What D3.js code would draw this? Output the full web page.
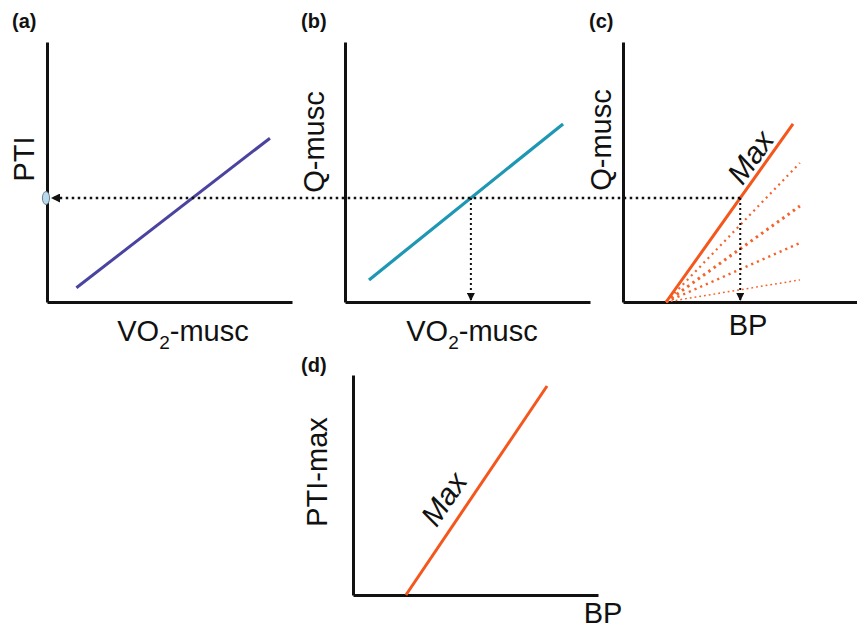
<!DOCTYPE html>
<html><head><meta charset="utf-8">
<script src="https://cdn.jsdelivr.net/npm/d3@7"></script>
<style>
html,body{margin:0;padding:0;background:#fff;}
svg{display:block;font-family:"Liberation Sans",Arial,Helvetica,sans-serif;}
</style></head>
<body>
<svg id="chart" width="857" height="629"></svg>
<script>
// ---- data (abstract units, each axis 0..10) ----
const panelLabels = ["(a)", "(b)", "(c)", "(d)"];
const yAxisLabels = ["PTI", "Q-musc", "Q-musc", "PTI-max"];
const xAxisLabels = ["VO2-musc", "VO2-musc", "BP", "BP"];
const lineA = [{x: 1.2, y: 0.55}, {x: 9.1, y: 6.3}];      // PTI vs VO2-musc
const lineB = [{x: 0.98, y: 0.85}, {x: 8.9, y: 6.85}];    // Q-musc vs VO2-musc
const lineCMax = [{x: 1.76, y: 0}, {x: 6.94, y: 6.85}];   // Q-musc vs BP, max
const subMaxOrigin = {x: 1.76, y: 0};
const subMaxEndX = 7.22;
const subMaxEndY = [5.35, 3.69, 2.27, 0.85];              // sub-maximal lines
const lineD = [{x: 2.16, y: 0}, {x: 7.92, y: 9.5}];       // PTI-max vs BP
const operatingLevel = 4.0;                               // shared Q / PTI level
const maxLabel = "Max";

// ---- layout ----
const svg = d3.select("#chart");
const panels = [
  {x0: 47, x1: 292, y0: 302, y1: 42},
  {x0: 345, x1: 590, y0: 302, y1: 42},
  {x0: 623, x1: 868, y0: 302, y1: 42},
  {x0: 353, x1: 598, y0: 595, y1: 375}
];
panels.forEach(p => {
  p.x = d3.scaleLinear().domain([0, 10]).range([p.x0, p.x1]);
  p.y = d3.scaleLinear().domain([0, 10]).range([p.y0, p.y1]);
});
const [pa, pb, pc, pd] = panels;

const defs = svg.append("defs");
function marker(id, w, h) {
  defs.append("marker").attr("id", id)
    .attr("viewBox", "0 0 10 10").attr("refX", 10).attr("refY", 5)
    .attr("markerWidth", w).attr("markerHeight", h)
    .attr("markerUnits", "userSpaceOnUse")
    .attr("orient", "auto")
    .append("path").attr("d", "M0,0L10,5L0,10Z").attr("fill", "#111");
}
marker("arrowH", 9, 9);
marker("arrowV", 8, 8);

// axes
panels.forEach(p => {
  svg.append("g").attr("transform", `translate(0,${p.y0})`)
    .call(d3.axisBottom(p.x).tickValues([]).tickSizeOuter(0))
    .call(g => g.select(".domain").attr("stroke", "#111").attr("stroke-width", 3));
  svg.append("g").attr("transform", `translate(${p.x0},0)`)
    .call(d3.axisLeft(p.y).tickValues([]).tickSizeOuter(0))
    .call(g => g.select(".domain").attr("stroke", "#111").attr("stroke-width", 3));
});

// panel letters
const letterPos = [[12, 28], [301, 28], [589, 28], [301, 372]];
panelLabels.forEach((t, i) => {
  svg.append("text").attr("x", letterPos[i][0]).attr("y", letterPos[i][1])
    .attr("font-size", 20).attr("font-weight", "bold").attr("fill", "#111").text(t);
});

// y-axis labels (rotated)
const yLabPos = [[34, 159], [324, 142], [611, 140], [327, 472]];
yAxisLabels.forEach((t, i) => {
  svg.append("text")
    .attr("transform", `translate(${yLabPos[i][0]},${yLabPos[i][1]}) rotate(-90)`)
    .attr("text-anchor", "middle").attr("font-size", 29).attr("fill", "#111").text(t);
});

// x-axis labels
const xLabPos = [[183, 341], [472, 341], [748, 335], [603, 623]];
xAxisLabels.forEach((t, i) => {
  const tx = svg.append("text").attr("x", xLabPos[i][0]).attr("y", xLabPos[i][1])
    .attr("text-anchor", "middle").attr("font-size", 29).attr("fill", "#111");
  if (t.startsWith("VO2")) {
    tx.append("tspan").text("VO");
    tx.append("tspan").attr("font-size", 19).attr("dy", 8).text("2");
    tx.append("tspan").attr("dy", -8).text(t.slice(3));
  } else tx.text(t);
});

const line = s => d3.line().x(d => s.x(d.x)).y(d => s.y(d.y));

// main lines
svg.append("path").datum(lineA).attr("d", line(pa)).attr("fill", "none")
  .attr("stroke", "#4a44a0").attr("stroke-width", 3);
svg.append("path").datum(lineB).attr("d", line(pb)).attr("fill", "none")
  .attr("stroke", "#1d97b3").attr("stroke-width", 3.2);

// sub-maximal dotted lines in (c)
const subStyles = [
  {w: 2.2, dash: "2,4"}, {w: 3, dash: "2.5,4"}, {w: 2.4, dash: "2.2,4"}, {w: 1.5, dash: "1.8,3"}
];
subMaxEndY.forEach((yv, i) => {
  svg.append("path").datum([subMaxOrigin, {x: subMaxEndX, y: yv}])
    .attr("d", line(pc)).attr("fill", "none").attr("stroke", "#f5622a")
    .attr("stroke-width", subStyles[i].w).attr("stroke-dasharray", subStyles[i].dash);
});
svg.append("path").datum(lineCMax).attr("d", line(pc)).attr("fill", "none")
  .attr("stroke", "#f4561c").attr("stroke-width", 3);
svg.append("path").datum(lineD).attr("d", line(pd)).attr("fill", "none")
  .attr("stroke", "#f4561c").attr("stroke-width", 3);

// intersections
const interX = (pts, lv) => pts[0].x + (lv - pts[0].y) / (pts[1].y - pts[0].y) * (pts[1].x - pts[0].x);
const xB = pb.x(interX(lineB, operatingLevel));
const xC = pc.x(interX(lineCMax, operatingLevel));
const yOp = pa.y(operatingLevel);

// horizontal dotted line with arrow to PTI axis
svg.append("line").attr("x1", xC).attr("y1", yOp).attr("x2", pa.x(0) + 4).attr("y2", yOp)
  .attr("stroke", "#111").attr("stroke-width", 2.6).attr("stroke-dasharray", "2.5,3.5")
  .attr("marker-end", "url(#arrowH)");
// vertical dotted arrows
[[xB, pb], [xC, pc]].forEach(([xx, p]) => {
  svg.append("line").attr("x1", xx).attr("y1", yOp).attr("x2", xx).attr("y2", p.y(0) - 1)
    .attr("stroke", "#111").attr("stroke-width", 2).attr("stroke-dasharray", "2,3")
    .attr("marker-end", "url(#arrowV)");
});
// operating point marker on PTI axis
svg.append("ellipse").attr("cx", pa.x(0) - 1).attr("cy", yOp).attr("rx", 3.6).attr("ry", 6.5)
  .attr("fill", "#b8d8ec").attr("stroke", "#6a8090").attr("stroke-width", 1);

// "Max" labels along lines
function maxText(p, pts, t, off) {
  const a = [p.x(pts[0].x), p.y(pts[0].y)], b = [p.x(pts[1].x), p.y(pts[1].y)];
  const ang = Math.atan2(b[1] - a[1], b[0] - a[0]) * 180 / Math.PI;
  const cx = a[0] + (b[0] - a[0]) * t, cy = a[1] + (b[1] - a[1]) * t;
  svg.append("text")
    .attr("transform", `translate(${cx},${cy}) rotate(${ang}) translate(0,${-off})`)
    .attr("text-anchor", "middle").attr("font-size", 30).attr("font-style", "italic")
    .attr("fill", "#111").text(maxLabel);
}
maxText(pc, lineCMax, 0.763, 5);
maxText(pd, lineD, 0.40, 12);
</script>
</body></html>
